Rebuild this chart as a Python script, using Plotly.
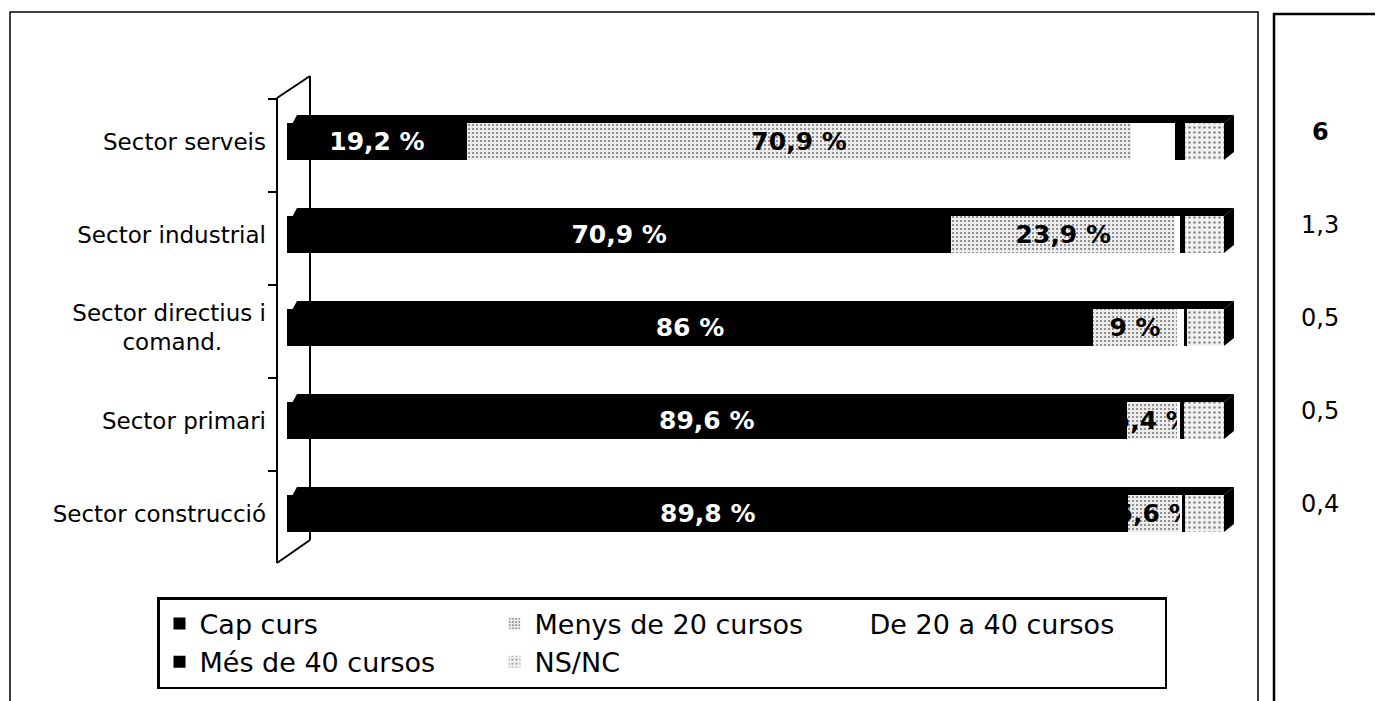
import plotly.graph_objects as go

# categories, top to bottom
sectors = ['Sector serveis', 'Sector industrial', 'Sector directius i<br>comand.\u00a0\u00a0\u00a0\u00a0\u00a0\u00a0',
           'Sector primari', 'Sector construcció']

series_names = ['Cap curs', 'Menys de 20 cursos', 'De 20 a 40 cursos', 'Més de 40 cursos', 'NS/NC']
cap_curs = [19.2, 70.9, 86.0, 89.6, 89.8]
menys_20 = [70.9, 23.9, 9.0, 5.4, 5.6]
de_20_40 = [4.7, 0.5, 0.8, 0.3, 0.1]
mes_40 = [1.0, 0.5, 0.2, 0.4, 0.3]
ns_nc = [4.2, 4.2, 4.0, 4.3, 4.2]

# values in the separate box on the right
side_values = [6, 1.3, 0.5, 0.5, 0.4]

W, H = 1383, 701
FONT = 'DejaVu Sans'
OFF = 8            # page body margin
ML, MR = 0, 140    # right margin only narrows the legend wrap width
GW = W - ML - MR


def px(x):
    return (x - OFF - ML) / GW


def py(y):
    return 1 - (y - OFF) / H


def pct(v):
    return f'{v:g}'.replace('.', ',') + ' %'


# plot area in pixels
X0_PX, X100_PX = 287, 1224
unit = (X100_PX - X0_PX) / 100
XMAX = 101.5
x_dom = [px(X0_PX), px(X0_PX + XMAX * unit)]
y_dom = [py(560), py(95)]

stipple = dict(shape='.', fgcolor='#7a7a7a', bgcolor='#ececec', size=4, solidity=0.22, fillmode='replace')
stipple2 = dict(shape='.', fgcolor='#8a8a8a', bgcolor='#f0f0f0', size=5, solidity=0.2, fillmode='replace')

fig = go.Figure()
series = [
    (cap_curs, dict(color='black'), 'white', True),
    (menys_20, dict(color='#e9e9e9', pattern=stipple), 'black', True),
    (de_20_40, dict(color='white'), 'black', False),
    (mes_40, dict(color='black'), 'white', False),
    (ns_nc, dict(color='#efefef', pattern=stipple2), 'black', False),
]
for name, (vals, marker, tcol, show_text) in zip(series_names, series):
    fig.add_trace(go.Bar(
        y=sectors, x=vals, orientation='h', name=name,
        marker=dict(line=dict(width=0), **marker),
        width=0.4,
        text=[pct(v) for v in vals] if show_text else None,
        textposition='inside' if show_text else 'none',
        insidetextanchor='middle', textangle=0, constraintext='none',
        textfont=dict(family=FONT, size=25, color=tcol, weight='bold'),
        cliponaxis=False,
        hoverinfo='name+x',
    ))

shapes = []
# outer frames
shapes.append(dict(type='rect', xref='paper', yref='paper', x0=px(10), x1=px(1258), y0=-0.05, y1=py(12),
                   line=dict(color='black', width=1.5), layer='below'))
shapes.append(dict(type='rect', xref='paper', yref='paper', x0=px(1274), x1=px(1420), y0=-0.05, y1=py(14),
                   line=dict(color='black', width=2.5), layer='below'))
# 3D side wall
wall = [((277, 98), (277, 563)), ((277, 98), (310, 76)), ((277, 563), (310, 540)), ((310, 76), (310, 540))]
for (a, b) in wall:
    shapes.append(dict(type='line', xref='paper', yref='paper', x0=px(a[0]), y0=py(a[1]),
                       x1=px(b[0]), y1=py(b[1]), line=dict(color='black', width=2), layer='below'))
for i in range(len(sectors) + 1):
    shapes.append(dict(type='line', xref='paper', yref='y', ysizemode='pixel', yanchor=i - 0.5,
                       x0=px(268), x1=px(277), y0=-4, y1=-4, line=dict(color='black', width=2)))

# 3D top and side faces of each bar
half = 0.2 * 93
dx = 10 / unit
for i, s in enumerate(sectors):
    total = cap_curs[i] + menys_20[i] + de_20_40[i] + mes_40[i] + ns_nc[i]
    shapes.append(dict(type='path', xref='x', yref='y', ysizemode='pixel', yanchor=i,
                       path=f'M 0.6,{half} L {total},{half} L {total + dx},{half + 8} L {dx},{half + 8} Z',
                       fillcolor='black', line=dict(width=0)))
    shapes.append(dict(type='path', xref='x', yref='y', ysizemode='pixel', yanchor=i,
                       path=f'M {total},{half} L {total + dx},{half + 8} L {total + dx},{-half + 8} L {total},{-half} Z',
                       fillcolor='black', line=dict(width=0)))

annotations = []
for i, v in enumerate(side_values):
    txt = f'{v:g}'.replace('.', ',')
    annotations.append(dict(xref='paper', yref='y', x=px(1320), y=sectors[i], yshift=9, text=txt,
                            showarrow=False, xanchor='center',
                            font=dict(family=FONT, size=24, color='black',
                                      weight='bold' if i == 0 else 'normal')))

fig.update_layout(
    width=W, height=H,
    barmode='stack',
    margin=dict(l=ML, r=MR, t=0, b=0),
    plot_bgcolor='white', paper_bgcolor='white',
    font=dict(family=FONT, color='black'),
    xaxis=dict(domain=x_dom, range=[0, XMAX], visible=False),
    yaxis=dict(domain=y_dom, range=[len(sectors) - 0.5, -0.5], autorange=False,
               showgrid=False, zeroline=False, ticks='',
               ticklabelstandoff=20, tickfont=dict(family=FONT, size=23, color='black')),
    shapes=shapes,
    annotations=annotations,
    showlegend=True,
    legend=dict(orientation='h', x=px(157), y=py(597), xanchor='left', yanchor='top',
                bgcolor='white', bordercolor='black', borderwidth=2.5,
                entrywidth=290, entrywidthmode='pixels', traceorder='normal',
                font=dict(family=FONT, size=27, color='black'), itemclick=False),
    bargap=0.6,
)

fig.write_html('out.html')
